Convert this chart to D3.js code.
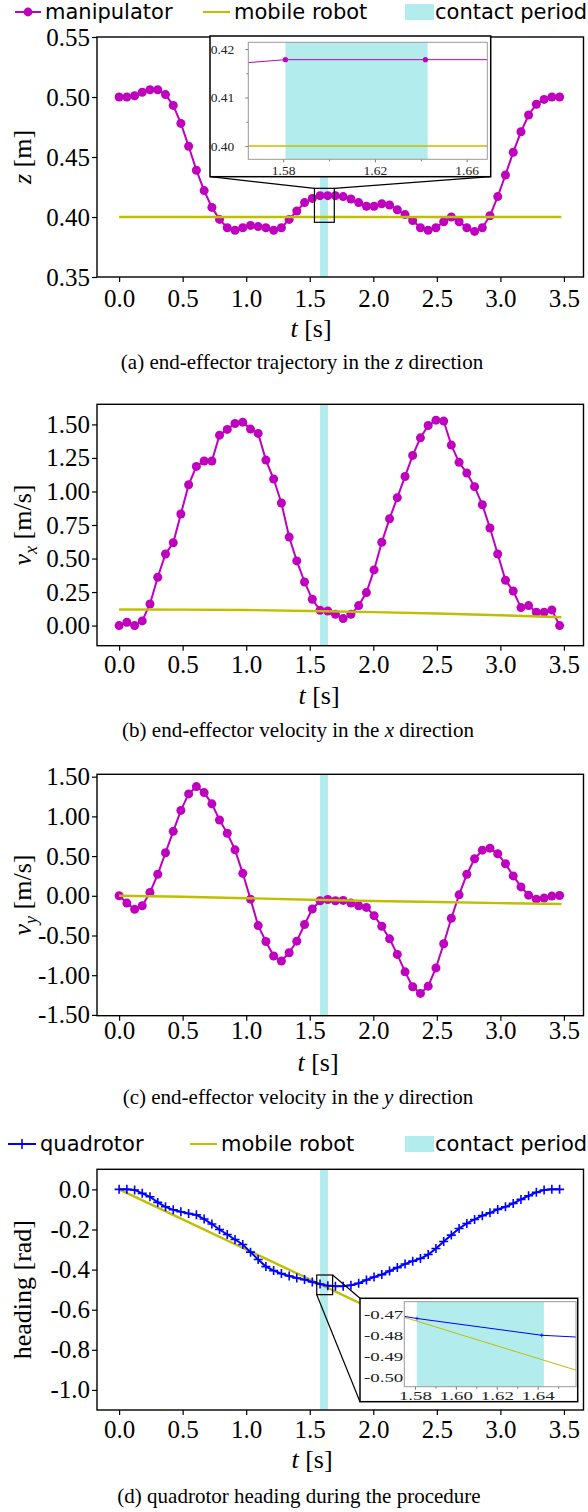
<!DOCTYPE html>
<html>
<head>
<meta charset="utf-8">
<script src="https://cdn.jsdelivr.net/npm/d3@7"></script>
<style>
	body { margin: 0; background: #fff; }
	svg { display: block; }
</style>
</head>
<body>
<svg id="fig" width="588" height="1512"></svg>
<script>
// sample times of the manipulator / quadrotor markers [s]
var time = [0.000, 0.061, 0.122, 0.182, 0.243, 0.304, 0.365, 0.426, 0.486, 0.547,
	0.608, 0.669, 0.730, 0.790, 0.851, 0.912, 0.973, 1.034, 1.094, 1.155,
	1.216, 1.277, 1.338, 1.398, 1.459, 1.520, 1.581, 1.642, 1.702, 1.763,
	1.824, 1.885, 1.946, 2.006, 2.067, 2.128, 2.189, 2.250, 2.310, 2.371,
	2.432, 2.493, 2.554, 2.614, 2.675, 2.736, 2.797, 2.858, 2.918, 2.979,
	3.040, 3.101, 3.162, 3.222, 3.283, 3.344, 3.405, 3.466];

var zManip = [0.500, 0.500, 0.501, 0.504, 0.506, 0.506, 0.502, 0.493, 0.478, 0.459,
	0.439, 0.422, 0.408, 0.398, 0.391, 0.389, 0.391, 0.393, 0.392, 0.391,
	0.389, 0.391, 0.398, 0.405, 0.412, 0.4155, 0.4178, 0.4178, 0.4178, 0.417,
	0.415, 0.412, 0.409, 0.409, 0.411, 0.410, 0.406, 0.402, 0.397, 0.391,
	0.389, 0.391, 0.396, 0.400, 0.396, 0.391, 0.388, 0.391, 0.401, 0.417,
	0.435, 0.454, 0.471, 0.485, 0.494, 0.498, 0.500, 0.500];

var vxManip = [0.000, 0.025, 0.000, 0.035, 0.161, 0.360, 0.534, 0.618, 0.832, 1.050,
	1.187, 1.227, 1.227, 1.420, 1.463, 1.507, 1.517, 1.465, 1.433, 1.234,
	1.093, 0.914, 0.660, 0.482, 0.325, 0.196, 0.114, 0.109, 0.084, 0.052,
	0.084, 0.149, 0.246, 0.415, 0.621, 0.797, 0.954, 1.112, 1.269, 1.400,
	1.492, 1.532, 1.525, 1.346, 1.217, 1.137, 1.036, 0.901, 0.728, 0.534,
	0.338, 0.258, 0.134, 0.149, 0.099, 0.099, 0.117, 0.000];

var vyManip = [0.000, -0.092, -0.171, -0.125, 0.042, 0.271, 0.542, 0.812, 1.075, 1.283,
	1.375, 1.300, 1.158, 0.954, 0.788, 0.579, 0.283, -0.042, -0.375, -0.575,
	-0.758, -0.821, -0.717, -0.571, -0.362, -0.167, -0.062, -0.046, -0.062, -0.058,
	-0.092, -0.125, -0.146, -0.250, -0.383, -0.542, -0.738, -0.958, -1.146, -1.229,
	-1.138, -0.908, -0.604, -0.283, 0.012, 0.271, 0.467, 0.575, 0.600, 0.529,
	0.404, 0.250, 0.112, 0.008, -0.042, -0.029, -0.004, 0.004];

var headingQuad = [0.000, 0.000, -0.003, -0.020, -0.037, -0.065, -0.087, -0.102, -0.112, -0.120,
	-0.127, -0.148, -0.173, -0.200, -0.225, -0.250, -0.275, -0.313, -0.350, -0.385,
	-0.405, -0.420, -0.432, -0.442, -0.450, -0.462, -0.472, -0.480, -0.483, -0.483,
	-0.478, -0.468, -0.452, -0.437, -0.425, -0.407, -0.390, -0.372, -0.358, -0.345,
	-0.325, -0.295, -0.260, -0.228, -0.195, -0.170, -0.150, -0.131, -0.117, -0.100,
	-0.087, -0.070, -0.050, -0.032, -0.015, -0.003, 0.000, 0.000];

// mobile robot reference
var timeMobile = [0.0, 0.5, 1.0, 1.5, 2.0, 2.5, 3.0, 3.48];
var zMobile = [0.400, 0.400, 0.400, 0.400, 0.400, 0.400, 0.400, 0.400];
var vxMobile = [0.120, 0.119, 0.116, 0.109, 0.100, 0.090, 0.077, 0.062];
var vyMobile = [0.000, -0.012, -0.030, -0.050, -0.066, -0.079, -0.092, -0.104];
var headingMobile = [0.000, -0.150, -0.300, -0.449, -0.599, -0.749, -0.899, -1.042];

var contactPeriod = [1.581, 1.643];

var xTicks = [0.0, 0.5, 1.0, 1.5, 2.0, 2.5, 3.0, 3.5];
var zTicks = [0.35, 0.40, 0.45, 0.50, 0.55];
var vxTicks = [0.00, 0.25, 0.50, 0.75, 1.00, 1.25, 1.50];
var vyTicks = [-1.50, -1.00, -0.50, 0.00, 0.50, 1.00, 1.50];
var headingTicks = [0.0, -0.2, -0.4, -0.6, -0.8, -1.0];

var MAGENTA = "#bf00bf", OLIVE = "#bfbf00", CYAN = "#00bfbf", BLUE = "#0000ff";
var SERIF = "'Liberation Serif', 'Times New Roman', serif";
var SANS = "'DejaVu Sans', sans-serif";

var svg = d3.select("#fig");
var fmt = d3.formatLocale({decimal: ".", thousands: ",", grouping: [3], currency: ["", ""], minus: "-"}).format;

var x = d3.scaleLinear().domain([-0.174, 3.654]).range([97, 583.5]);

function pairs(xs, ys) {
	return xs.map(function(t, i) { return [t, ys[i]]; });
}

function addText(g, px, py, parts, opts) {
	var t = g.append("text")
		.attr("x", px).attr("y", py)
		.attr("text-anchor", opts.anchor || "middle")
		.attr("font-family", opts.family || SERIF)
		.style("font-family", opts.family || SERIF)
		.style("font-size", opts.size + "px")
		.attr("fill", "black");
	if(opts.rotate) { t.attr("transform", "rotate(-90," + px + "," + py + ")"); }
	parts.forEach(function(p) {
		var s = t.append("tspan").text(p.text);
		if(p.italic) { s.style("font-style", "italic"); }
		if(p.dy) { s.attr("dy", p.dy); }
		if(p.small) { s.style("font-size", (opts.size * 0.7) + "px"); }
	});
	return t;
}

function drawSeries(g, xs, ys, data, o) {
	var line = d3.line().x(function(d) { return xs(d[0]); }).y(function(d) { return ys(d[1]); });
	g.append("path").datum(data)
		.attr("d", line)
		.attr("fill", "none")
		.attr("stroke", o.color)
		.attr("stroke-width", o.width);
	if(o.marker === "circle") {
		g.selectAll(null).data(data).enter().append("circle")
			.attr("cx", function(d) { return xs(d[0]); })
			.attr("cy", function(d) { return ys(d[1]); })
			.attr("r", o.size)
			.attr("fill", o.color);
	} else if(o.marker === "plus") {
		g.selectAll(null).data(data).enter().append("path")
			.attr("d", function(d) {
				var cx = xs(d[0]), cy = ys(d[1]), s = o.size;
				return "M" + (cx - s) + "," + cy + "H" + (cx + s) + "M" + cx + "," + (cy - s) + "V" + (cy + s);
			})
			.attr("stroke", o.color)
			.attr("stroke-width", o.markerWidth);
	}
}

function panel(opt) {
	var g = svg.append("g");
	var y = d3.scaleLinear().domain(opt.yDomain).range([opt.bottom, opt.top]);

	// contact period band
	g.append("rect")
		.attr("x", x(contactPeriod[0]))
		.attr("width", x(contactPeriod[1]) - x(contactPeriod[0]))
		.attr("y", opt.top)
		.attr("height", opt.bottom - opt.top)
		.attr("fill", CYAN).attr("fill-opacity", 0.3);

	opt.series.forEach(function(s) { drawSeries(g, x, y, s.data, s); });

	// axes
	var xa = g.append("g")
		.attr("transform", "translate(0," + opt.bottom + ")")
		.call(d3.axisBottom(x).tickValues(xTicks).tickFormat(fmt(".1f")).tickSize(5).tickPadding(opt.xPad));
	var ya = g.append("g")
		.attr("transform", "translate(" + x.range()[0] + ",0)")
		.call(d3.axisLeft(y).tickValues(opt.yTicks).tickFormat(fmt(opt.yFormat)).tickSize(5).tickPadding(2));
	[xa, ya].forEach(function(a) {
		a.select(".domain").remove();
		a.attr("font-family", SERIF).attr("font-size", 25);
		a.selectAll("line").attr("stroke", "black").attr("stroke-width", 1.2);
		a.selectAll("text")
			.style("font-family", SERIF)
			.style("font-size", "25px")
			.attr("fill", "black");
	});

	g.append("rect")
		.attr("x", x.range()[0]).attr("y", opt.top)
		.attr("width", x.range()[1] - x.range()[0])
		.attr("height", opt.bottom - opt.top)
		.attr("fill", "none").attr("stroke", "black").attr("stroke-width", 1.4);

	// labels
	addText(g, opt.xLabelX, opt.bottom + opt.xLabelDy,
		[{text: "t", italic: true}, {text: " [s]"}], {size: 26});
	addText(g, opt.yLabelX, (opt.top + opt.bottom) / 2, opt.yLabel, {size: 26, rotate: true});
	addText(g, opt.captionX, opt.captionY, opt.caption, {size: 21});

	if(opt.inset) { inset(g, y, opt.inset); }
	return g;
}

function inset(g, y, o) {
	var bx = [x(o.box[0]), x(o.box[1])], by = [y(o.box[3]), y(o.box[2])];
	// zoom rectangle
	g.append("rect")
		.attr("x", bx[0]).attr("y", by[0])
		.attr("width", bx[1] - bx[0]).attr("height", by[1] - by[0])
		.attr("fill", "none").attr("stroke", "black").attr("stroke-width", 1.2);
	// connector lines
	o.connectors.forEach(function(c) {
		g.append("line")
			.attr("x1", bx[c[0]]).attr("y1", by[c[1]])
			.attr("x2", c[2]).attr("y2", c[3])
			.attr("stroke", "black").attr("stroke-width", 1.2);
	});

	g.append("rect")
		.attr("x", o.outer[0]).attr("y", o.outer[1])
		.attr("width", o.outer[2] - o.outer[0]).attr("height", o.outer[3] - o.outer[1])
		.attr("fill", "white").attr("stroke", "black").attr("stroke-width", 1.5);

	var ix = d3.scaleLinear().domain(o.xDomain).range([o.inner[0], o.inner[2]]);
	var iy = d3.scaleLinear().domain(o.yDomain).range([o.inner[3], o.inner[1]]);

	var clipId = "clip-" + o.id;
	g.append("clipPath").attr("id", clipId).append("rect")
		.attr("x", o.inner[0]).attr("y", o.inner[1])
		.attr("width", o.inner[2] - o.inner[0]).attr("height", o.inner[3] - o.inner[1]);
	var ig = g.append("g").attr("clip-path", "url(#" + clipId + ")");
	ig.append("rect")
		.attr("x", ix(contactPeriod[0])).attr("width", ix(contactPeriod[1]) - ix(contactPeriod[0]))
		.attr("y", o.inner[1]).attr("height", o.inner[3] - o.inner[1])
		.attr("fill", CYAN).attr("fill-opacity", 0.3);
	o.series.forEach(function(s) { drawSeries(ig, ix, iy, s.data, s); });

	var xa = g.append("g")
		.attr("transform", "translate(0," + o.inner[3] + ")")
		.call(d3.axisBottom(ix).tickValues(o.xTicks).tickFormat(fmt(".2f")).tickSize(3).tickPadding(o.xPad));
	var xm = g.append("g")
		.attr("transform", "translate(0," + o.inner[3] + ")")
		.call(d3.axisBottom(ix).tickValues(o.xMinor).tickFormat("").tickSize(2));
	var ya = g.append("g")
		.attr("transform", "translate(" + o.inner[0] + ",0)")
		.call(d3.axisLeft(iy).tickValues(o.yTicks).tickFormat(fmt(".2f")).tickSize(o.yTickSize).tickPadding(o.yPad));
	var ym = g.append("g")
		.attr("transform", "translate(" + o.inner[0] + ",0)")
		.call(d3.axisLeft(iy).tickValues(o.yMinor).tickFormat("").tickSize(2));
	[xa, xm, ya, ym].forEach(function(a) {
		a.select(".domain").remove();
		a.attr("font-family", SERIF);
		a.selectAll("line").attr("stroke", "#555").attr("stroke-width", 0.8);
		a.selectAll("text")
			.style("font-family", SERIF)
			.style("font-size", o.fontSize + "px")
			.attr("fill", "#222");
	});
	if(o.stretch) {
		xa.selectAll("text").attr("transform", "scale(" + o.stretch + ",1)");
		ya.selectAll("text").attr("transform", "scale(" + o.stretch + ",1)").attr("x", -o.yPad / o.stretch);
	}

	g.append("rect")
		.attr("x", o.inner[0]).attr("y", o.inner[1])
		.attr("width", o.inner[2] - o.inner[0]).attr("height", o.inner[3] - o.inner[1])
		.attr("fill", "none").attr("stroke", "#999").attr("stroke-width", 1);
}

// (a) z trajectory
panel({
	top: 37, bottom: 277, yDomain: [0.35, 0.55], yTicks: zTicks, yFormat: ".2f",
	xPad: 7, xLabelX: 311, xLabelDy: 60, captionX: 302, captionY: 369,
	yLabelX: 31, yLabel: [{text: "z", italic: true}, {text: " [m]"}],
	caption: [{text: "(a) end-effector trajectory in the "}, {text: "z", italic: true}, {text: " direction"}],
	series: [
		{data: pairs(time, zManip), color: MAGENTA, width: 2, marker: "circle", size: 4.5},
		{data: pairs(timeMobile, zMobile), color: OLIVE, width: 2.4}
	],
	inset: {
		id: "a", outer: [210, 36, 490.7, 176.7], inner: [248.3, 42.3, 487.3, 159.3],
		xDomain: [1.5648, 1.669], yDomain: [0.39726, 0.42138],
		xTicks: [1.58, 1.62, 1.66], xMinor: [1.60, 1.64],
		yTicks: [0.40, 0.41, 0.42], yMinor: [0.405, 0.415],
		xPad: 3, yPad: 11, yTickSize: 3, fontSize: 13.5,
		box: [1.537, 1.693, 0.3956, 0.4239],
		connectors: [[0, 0, 210, 176.7], [1, 0, 490.7, 176.7]],
		series: [
			{data: pairs(time, zManip), color: MAGENTA, width: 1, marker: "circle", size: 2.6},
			{data: pairs(timeMobile, zMobile), color: OLIVE, width: 1.3}
		]
	}
});

// (b) vx
panel({
	top: 404.3, bottom: 645.7, yDomain: [-0.15, 1.65], yTicks: vxTicks, yFormat: ".2f",
	xPad: 5, xLabelX: 319, xLabelDy: 58, captionX: 298, captionY: 737,
	yLabelX: 31, yLabel: [{text: "v", italic: true}, {text: "x", italic: true, dy: 6, small: true}, {text: " [m/s]", dy: -6}],
	caption: [{text: "(b) end-effector velocity in the "}, {text: "x", italic: true}, {text: " direction"}],
	series: [
		{data: pairs(time, vxManip), color: MAGENTA, width: 2, marker: "circle", size: 4.5},
		{data: pairs(timeMobile, vxMobile), color: OLIVE, width: 2.4}
	]
});

// (c) vy
panel({
	top: 774.3, bottom: 1015.7, yDomain: [-1.51, 1.53], yTicks: vyTicks, yFormat: ".2f",
	xPad: 1, xLabelX: 318, xLabelDy: 55, captionX: 298, captionY: 1104,
	yLabelX: 31, yLabel: [{text: "v", italic: true}, {text: "y", italic: true, dy: 6, small: true}, {text: " [m/s]", dy: -6}],
	caption: [{text: "(c) end-effector velocity in the "}, {text: "y", italic: true}, {text: " direction"}],
	series: [
		{data: pairs(time, vyManip), color: MAGENTA, width: 2, marker: "circle", size: 4.5},
		{data: pairs(timeMobile, vyMobile), color: OLIVE, width: 2.4}
	]
});

// (d) heading
panel({
	top: 1169.3, bottom: 1410, yDomain: [-1.1, 0.1], yTicks: headingTicks, yFormat: ".1f",
	xPad: 5, xLabelX: 312, xLabelDy: 58, captionX: 299, captionY: 1503,
	yLabelX: 31, yLabel: [{text: "heading [rad]"}],
	caption: [{text: "(d) quadrotor heading during the procedure"}],
	series: [
		{data: pairs(timeMobile, headingMobile), color: OLIVE, width: 2.4},
		{data: pairs(time, headingQuad), color: BLUE, width: 2, marker: "plus", size: 4.5, markerWidth: 1.6}
	],
	inset: {
		id: "d", outer: [360, 1298.3, 577.7, 1401.7], inner: [404.3, 1301.7, 576, 1386.7],
		xDomain: [1.5748, 1.6587], yDomain: [-0.5045, -0.464],
		xTicks: [1.58, 1.60, 1.62, 1.64], xMinor: [1.59, 1.61, 1.63, 1.65],
		yTicks: [-0.47, -0.48, -0.49, -0.50], yMinor: [],
		xPad: 1, yPad: 1, yTickSize: 0, stretch: 1.4, fontSize: 13.5,
		box: [1.555, 1.68, -0.525, -0.427],
		connectors: [[1, 0, 360, 1298.3], [0, 1, 360, 1401.7]],
		series: [
			{data: pairs(timeMobile, headingMobile), color: OLIVE, width: 1},
			{data: pairs(time, headingQuad), color: BLUE, width: 1, marker: "plus", size: 2, markerWidth: 0.8}
		]
	}
});

// legends
function legend(cy, items) {
	var g = svg.append("g");
	items.forEach(function(it) {
		if(it.type === "patch") {
			g.append("rect").attr("x", it.x0).attr("y", cy - 8).attr("width", it.x1 - it.x0).attr("height", 16)
				.attr("fill", CYAN).attr("fill-opacity", 0.3);
		} else {
			g.append("line").attr("x1", it.x0).attr("x2", it.x1).attr("y1", cy).attr("y2", cy)
				.attr("stroke", it.color).attr("stroke-width", 2);
			if(it.type === "circle") {
				g.append("circle").attr("cx", (it.x0 + it.x1) / 2).attr("cy", cy).attr("r", 4.4).attr("fill", it.color);
			} else if(it.type === "plus") {
				var mx = (it.x0 + it.x1) / 2;
				g.append("path").attr("d", "M" + (mx - 5) + "," + cy + "H" + (mx + 5) + "M" + mx + "," + (cy - 5) + "V" + (cy + 5))
					.attr("stroke", it.color).attr("stroke-width", 1.6);
			}
		}
		addText(g, it.tx, cy + 7, [{text: it.label}], {size: 21, family: SANS, anchor: "start"});
	});
}

legend(12, [
	{type: "circle", color: MAGENTA, x0: 15, x1: 41, tx: 45, label: "manipulator"},
	{type: "line", color: OLIVE, x0: 203, x1: 230, tx: 234, label: "mobile robot"},
	{type: "patch", x0: 405, x1: 434, tx: 435, label: "contact period"}
]);
legend(1144, [
	{type: "plus", color: BLUE, x0: 8, x1: 36, tx: 40, label: "quadrotor"},
	{type: "line", color: OLIVE, x0: 190, x1: 217, tx: 221, label: "mobile robot"},
	{type: "patch", x0: 405, x1: 434, tx: 435, label: "contact period"}
]);
</script>
</body>
</html>
